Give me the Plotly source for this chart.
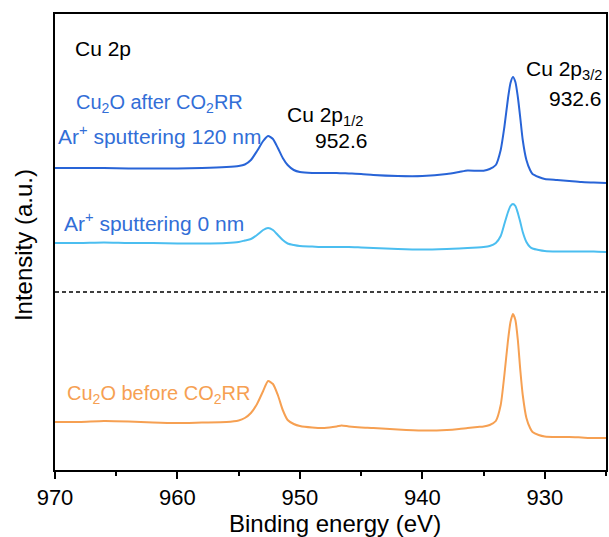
import plotly.graph_objects as go

# Binding energies (eV) at which the spectra were read
energy = [970, 968, 966, 964, 962, 960, 958, 956, 955, 954.5, 954, 953.5, 953, 952.6,
          952.2, 951.8, 951.4, 951, 950.5, 950, 949, 948, 947, 946.6, 946, 945, 944,
          942, 940, 938, 937, 936.3, 935.5, 935, 934.5, 934, 933.6, 933.3, 933, 932.8,
          932.6, 932.4, 932.2, 932, 931.8, 931.5, 931.2, 931, 930.5, 930, 929, 928,
          927, 926, 925]

# Intensities (a.u., stacked with offsets as in the figure)
after_120nm = [292, 292, 292, 291.5, 291.5, 291.5, 292, 293, 294, 295.5, 300, 309, 319, 324,
               321, 312, 302, 295, 290, 288, 287, 287, 287, 286.8, 286.5, 286, 285,
               284, 284, 286, 288, 289.5, 289.2, 289.3, 291, 295, 310, 333, 362, 377,
               383, 378, 363, 342, 320, 300, 290, 286, 283, 281, 280, 279,
               278, 277.5, 277]

after_0nm = [217, 217, 217.5, 217, 217, 216.5, 216.5, 217, 218, 219.5, 221, 225, 230, 232,
             230, 225, 220, 216.5, 215, 214, 213.5, 213, 213, 213, 213, 212.5, 212,
             211, 210.5, 211, 211.5, 212, 212.5, 213, 214, 217, 224, 236, 248, 254,
             256, 254, 247, 238, 228, 218, 213, 211.5, 210, 209, 208.5, 208.5,
             208.5, 208.5, 208]

before = [38, 38, 39, 38.5, 37.5, 37, 37.5, 38, 39.5, 42, 47, 56, 69, 79,
          76, 65, 50, 40, 36, 34, 32.5, 32, 33.5, 34.5, 33.5, 32.5, 32,
          30.5, 29.5, 30, 31, 32, 33, 33.5, 35, 39, 55, 85, 120, 138,
          146, 140, 120, 90, 65, 42, 32, 28, 25, 23.5, 23, 23,
          22.5, 22, 22]

separator_level = 168
y_range = [-10, 446]

x_ticks = [970, 960, 950, 940, 930]

BLUE_DARK = "rgb(40,100,215)"
BLUE_LIGHT = "rgb(75,190,240)"
ORANGE = "rgb(246,160,82)"
TEXT_BLUE = "rgb(50,110,215)"
FONT = "Arial, Liberation Sans, sans-serif"

W, H = 609, 537
L, R, T, B = 55, 1, 14, 67
PW, PH = W - L - R, H - T - B


def px(xp):
    return (xp - L) / PW


def py(yp):
    return (H - B - yp) / PH


fig = go.Figure()
for ys, col in [(after_120nm, BLUE_DARK), (after_0nm, BLUE_LIGHT), (before, ORANGE)]:
    fig.add_trace(go.Scatter(x=energy, y=ys, mode="lines",
                             line=dict(color=col, width=2, shape="spline", smoothing=0.6),
                             showlegend=False, hoverinfo="skip"))

fig.add_shape(type="line", xref="paper", yref="y", x0=0, x1=1,
              y0=separator_level, y1=separator_level,
              line=dict(color="black", width=1.3, dash="4px,3px"))

ann = []


def add(text, x, y, xanchor, color="black", size=21, yanchor="middle", angle=0):
    ann.append(dict(text=text, x=px(x), y=py(y), xref="paper", yref="paper",
                    xanchor=xanchor, yanchor=yanchor, showarrow=False, textangle=angle,
                    font=dict(family=FONT, size=size, color=color)))


add("Cu 2p", 73, 48, "left")
add("Cu<sub>2</sub>O after CO<sub>2</sub>RR", 160, 104, "center", TEXT_BLUE, 20)
add("Ar<sup>+</sup> sputtering 120 nm", 56, 135, "left", TEXT_BLUE, 21)
add("Cu 2p<sub>1/2</sub>", 286, 116, "left")
add("952.6", 371, 140, "right")
add("Cu 2p<sub>3/2</sub>", 606, 70, "right")
add("932.6", 606, 98, "right")
add("Ar<sup>+</sup> sputtering 0 nm", 62, 222, "left", TEXT_BLUE, 21)
add("Cu<sub>2</sub>O before CO<sub>2</sub>RR", 65, 394, "left", ORANGE, 20)
add("Binding energy (eV)", 336, 523, "center", size=24)
add("Intensity (a.u.)", 24, 245, "center", size=24, angle=-90)

fig.update_layout(
    width=W, height=H,
    margin=dict(l=L, r=R, t=T, b=B),
    paper_bgcolor="white", plot_bgcolor="white",
    font=dict(family=FONT, color="black"),
    annotations=ann,
    xaxis=dict(range=[970, 925], tickvals=x_ticks, ticks="outside", ticklen=7,
               tickwidth=1.5, tickcolor="black", showline=True, mirror=True,
               linecolor="black", linewidth=1.5, showgrid=False, zeroline=False,
               tickfont=dict(size=22, family=FONT, color="black"),
               minor=dict(dtick=5, ticks="outside", ticklen=4, tickwidth=1.5,
                          tickcolor="black", showgrid=False)),
    yaxis=dict(range=y_range, showticklabels=False, ticks="", showline=True,
               mirror=True, linecolor="black", linewidth=1.5, showgrid=False,
               zeroline=False),
)

fig.write_html("out.html", config={"displayModeBar": False},
               post_script="document.body.style.margin='0';document.body.style.overflow='hidden';")
